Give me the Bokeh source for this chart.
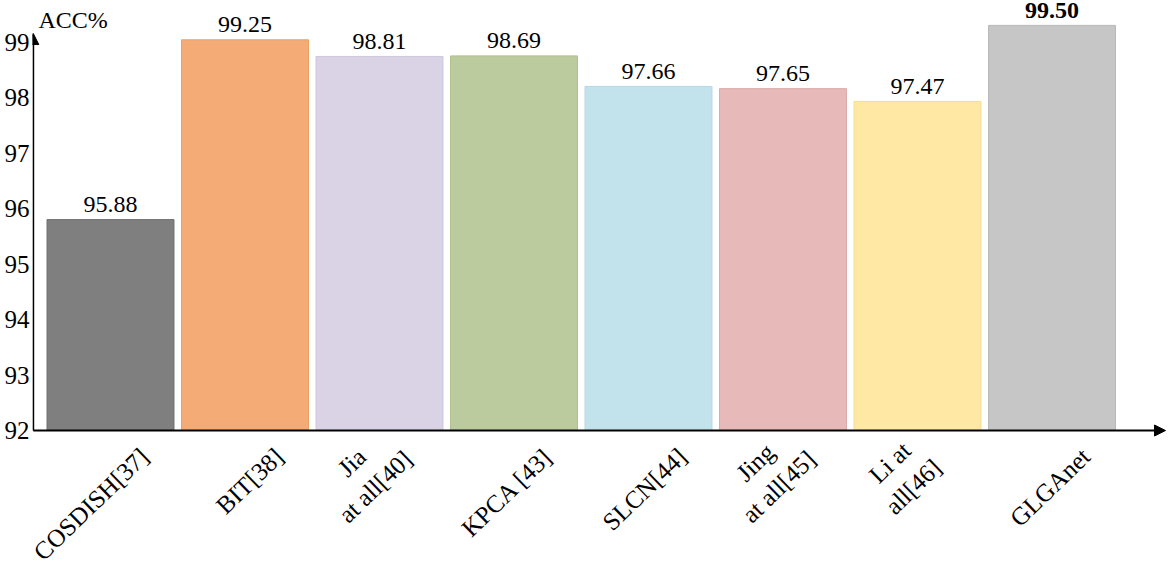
import math
from bokeh.plotting import figure
from bokeh.models import ColumnDataSource, Range1d, FixedTicker, Arrow, NormalHead
from bokeh.core.properties import value
from bokeh.embed import file_html
from bokeh.resources import INLINE

# ---- data ----
methods = ["COSDISH[37]", "BIT[38]", "Jia\nat all[40]", "KPCA [43]",
           "SLCN[44]", "Jing\nat all[45]", "Li at\nall[46]", "GLGAnet"]
reported_acc = [95.88, 99.25, 98.81, 98.69, 97.66, 97.65, 97.47, 99.50]   # printed labels
drawn_height = [95.80, 99.04, 98.74, 98.75, 98.20, 98.16, 97.93, 99.30]   # bar tops as drawn
y_ticks = [92, 93, 94, 95, 96, 97, 98, 99]
y_base = 92
y_title = "ACC%"

# ---- styles ----
fills = ["#7f7f7f", "#f4ab75", "#dad3e6", "#bccb9e", "#c3e3ec", "#e7b9b8", "#ffe8a3", "#c6c6c6"]
edges = ["#6e6e6e", "#eea060", "#cfc6de", "#b0c08e", "#b3d8e3", "#ddaaa9", "#f7dc90", "#b9b9b9"]
FONT = "Liberation Serif"

W, H = 1170, 564
LEFT = 32
x0, x1 = -0.5799, 7.8810
y0, y1 = 89.586, 99.748

p = figure(width=W, height=H, output_backend="svg", toolbar_location=None,
           x_range=Range1d(x0, x1), y_range=Range1d(y0, y1),
           x_axis_location=None, y_axis_location="left",
           min_border_left=LEFT, min_border_right=0, min_border_top=0, min_border_bottom=0)
p.outline_line_color = None
p.xgrid.visible = False
p.ygrid.visible = False
p.background_fill_color = "white"
p.border_fill_color = "white"

ax = p.yaxis[0]
ax.ticker = FixedTicker(ticks=y_ticks)
ax.axis_line_color = None
ax.major_tick_line_color = None
ax.minor_tick_line_color = None
ax.major_tick_out = 0
ax.major_label_standoff = 3
ax.major_label_text_font = FONT
ax.major_label_text_font_size = "25px"
ax.major_label_text_color = "black"

xs = list(range(len(methods)))
src = ColumnDataSource(dict(
    x=xs, top=drawn_height, bottom=[y_base] * len(xs),
    fill=fills, edge=edges,
    lab=["%.2f" % v for v in reported_acc],
    fstyle=["bold" if v == max(reported_acc) else "normal" for v in reported_acc],
))
p.vbar(x="x", top="top", bottom="bottom", width=0.944, source=src,
       fill_color="fill", line_color="edge", line_width=1)

# value labels
p.text(x="x", y="top", text="lab", source=src, text_align="center",
       text_baseline="alphabetic", y_offset=-15, text_font=value(FONT),
       text_font_size="24px", text_font_style="fstyle", text_color="black")

# category labels (rotated)
ang = math.radians(44)
single = [i for i, m in enumerate(methods) if "\n" not in m]
multi = [i for i, m in enumerate(methods) if "\n" in m]
s1 = ColumnDataSource(dict(x=[xs[i] for i in single], y=[y_base] * len(single),
                           t=[methods[i] for i in single]))
s2 = ColumnDataSource(dict(x=[xs[i] for i in multi], y=[y_base] * len(multi),
                           t=[methods[i] for i in multi]))
p.text(x="x", y="y", text="t", source=s1, angle=ang, text_align="right",
       text_baseline="middle", x_offset=34, y_offset=22, text_font=value(FONT),
       text_font_size="25px", text_color="black")
p.text(x="x", y="y", text="t", source=s2, angle=ang, text_align="center",
       text_baseline="middle", x_offset=-16, y_offset=44, text_font=value(FONT),
       text_font_size="25px", text_color="black", text_line_height=1.25)

# axes with arrow heads
ax_x = x0 + 0.006
p.add_layout(Arrow(x_start=ax_x, y_start=y_base, x_end=ax_x, y_end=99.153,
                   line_color="black", line_width=1.8,
                   end=NormalHead(size=11, fill_color="black", line_color="black")))
p.add_layout(Arrow(x_start=ax_x, y_start=y_base, x_end=7.844, y_end=y_base,
                   line_color="black", line_width=1.8,
                   end=NormalHead(size=11, fill_color="black", line_color="black")))

# y title
p.text(x=[-0.5353], y=[99.261], text=[y_title], text_align="left",
       text_baseline="alphabetic", y_offset=-8, text_font=value(FONT),
       text_font_size="24px", text_color="black")

open("out.html", "w").write(file_html(p, INLINE))
